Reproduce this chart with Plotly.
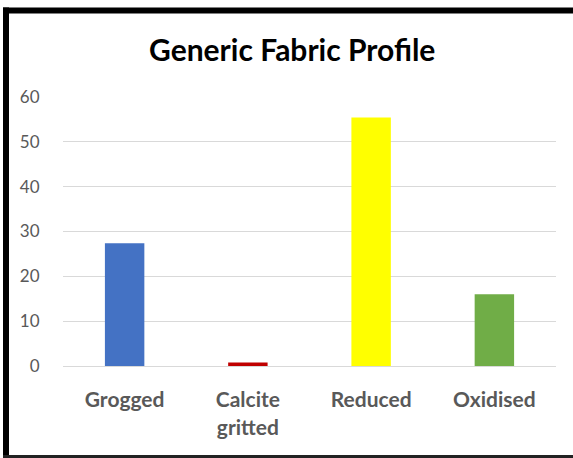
import plotly.graph_objects as go

categories = ["Grogged", "Calcite<br>gritted", "Reduced", "Oxidised"]
values = [27.4, 0.8, 55.4, 16.0]
colors = ["#4472C4", "#C00000", "#FFFF00", "#70AD47"]
y_ticks = [0, 10, 20, 30, 40, 50, 60]

W, H = 573, 458
L, R, T, B = 63, 17, 97, 92

fig = go.Figure(go.Bar(x=categories, y=values, marker=dict(color=colors, line=dict(width=0)), width=0.32))

def px_to_paper_x(px):
    return (px - L) / (W - L - R)

def px_to_paper_y(py):
    return (H - B - py) / (H - T - B)

border = dict(color="black", width=6)
# top
fig.add_shape(type="line", xref="paper", yref="paper",
              x0=px_to_paper_x(3), x1=px_to_paper_x(573),
              y0=px_to_paper_y(10.5), y1=px_to_paper_y(10.5), line=border, layer="above")
# left
fig.add_shape(type="line", xref="paper", yref="paper",
              x0=px_to_paper_x(6), x1=px_to_paper_x(6),
              y0=px_to_paper_y(7.5), y1=px_to_paper_y(458), line=border, layer="above")
# bottom
fig.add_shape(type="line", xref="paper", yref="paper",
              x0=px_to_paper_x(3), x1=px_to_paper_x(573),
              y0=px_to_paper_y(457.5), y1=px_to_paper_y(457.5),
              line=dict(color="#222222", width=5), layer="above")

fig.update_layout(
    width=W, height=H,
    margin=dict(l=L, r=R, t=T, b=B),
    paper_bgcolor="white", plot_bgcolor="white",
    showlegend=False,
    font=dict(family="Lato, Carlito, sans-serif", color="#595959"),
    title=dict(text="<b>Generic Fabric Profile</b>", x=0.51, xanchor="center",
               y=1 - 50 / H, yanchor="middle", yref="container",
               font=dict(size=30, color="#000000", family="Lato, sans-serif")),
    xaxis=dict(showgrid=False, showline=False, zeroline=False,
               ticks="outside", ticklen=15, tickcolor="rgba(0,0,0,0)",
               tickfont=dict(size=21, color="#595959", weight="bold"),
               range=[-0.5, 3.5]),
    yaxis=dict(range=[0, 60], tickvals=y_ticks, showgrid=True, gridcolor="#d9d9d9", gridwidth=1,
               zeroline=True, zerolinecolor="#d9d9d9", zerolinewidth=1, showline=False,
               ticks="outside", ticklen=19, tickcolor="rgba(0,0,0,0)",
               tickfont=dict(size=17, color="#595959")),
)

fig.write_html("out.html")
